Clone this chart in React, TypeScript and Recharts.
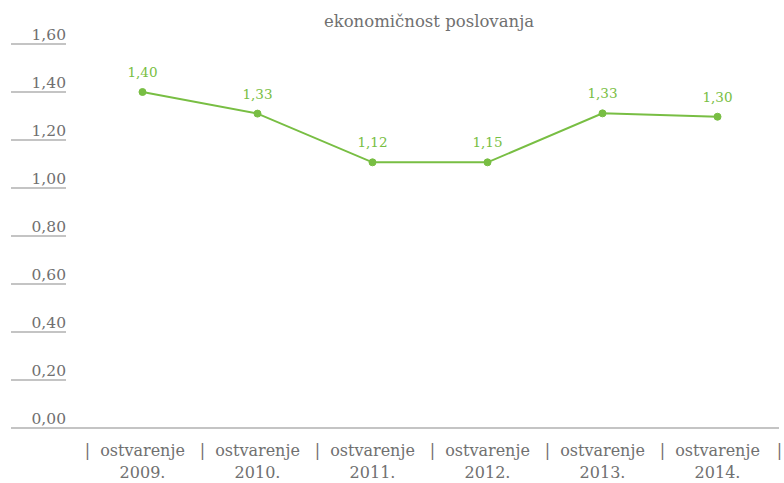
import { LineChart, Line, XAxis, YAxis, LabelList } from "recharts";

const years = ["2009.", "2010.", "2011.", "2012.", "2013.", "2014."];
const categoryLabel = "ostvarenje";
const values = [1.4, 1.31, 1.107, 1.107, 1.311, 1.297];
const valueLabels = ["1,40", "1,33", "1,12", "1,15", "1,33", "1,30"];
const yTicks = [0, 0.2, 0.4, 0.6, 0.8, 1.0, 1.2, 1.4, 1.6];

const data = years.map((year, i) => ({ year, value: values[i], label: valueLabels[i] }));

const GREEN = "#78be43";
const GRAY = "#707070";
const FONT = "'DejaVu Serif', serif";

const fmt = (v: number) => v.toFixed(2).replace(".", ",");

function YTick({ y, payload }: any) {
  const isZero = payload.value === 0;
  return (
    <g>
      <text x={66} y={y - 4} textAnchor="end" fill={GRAY} fontSize={15.5} fontFamily={FONT}>
        {fmt(payload.value)}
      </text>
      <line x1={11} x2={isZero ? 779 : 66} y1={y} y2={y} stroke="#8a8a8a" strokeWidth={1.2} />
    </g>
  );
}

function XTick({ x, payload, index }: any) {
  const last = index === years.length - 1;
  return (
    <g fontFamily={FONT} fontSize={16} fill={GRAY}>
      <text x={x - 55} y={456} textAnchor="middle">|</text>
      {last && <text x={x + 62} y={456} textAnchor="middle">|</text>}
      <text x={x} y={456} textAnchor="middle">{categoryLabel}</text>
      <text x={x} y={478} textAnchor="middle">{payload.value}</text>
    </g>
  );
}

export default function App() {
  return (
    <div style={{ position: "absolute", left: 0, top: 0, width: 784, height: 483, background: "#fff" }}>
      <div
        style={{
          position: "absolute",
          left: 0,
          width: 858,
          top: 12,
          textAlign: "center",
          fontFamily: FONT,
          fontSize: 16.5,
          color: GRAY,
        }}
      >
        ekonomičnost poslovanja
      </div>
      <LineChart width={784} height={483} data={data} margin={{ top: 44, right: 9, left: 0, bottom: 0 }}>
        <XAxis
          dataKey="year"
          scale="band"
          height={55}
          axisLine={false}
          tickLine={false}
          tick={<XTick />}
          interval={0}
        />
        <YAxis
          width={85}
          domain={[0, 1.6]}
          ticks={yTicks}
          axisLine={false}
          tickLine={false}
          tick={<YTick />}
          interval={0}
        />
        <Line
          type="linear"
          dataKey="value"
          stroke={GREEN}
          strokeWidth={2}
          dot={{ r: 3.5, fill: GREEN, stroke: GREEN, strokeWidth: 1 }}
          isAnimationActive={false}
        >
          <LabelList
            dataKey="label"
            content={({ x, y, value }: any) => (
              <text x={x} y={y - 15} textAnchor="middle" fill={GREEN} fontSize={13.5} fontFamily={FONT}>
                {value}
              </text>
            )}
          />
        </Line>
      </LineChart>
    </div>
  );
}
